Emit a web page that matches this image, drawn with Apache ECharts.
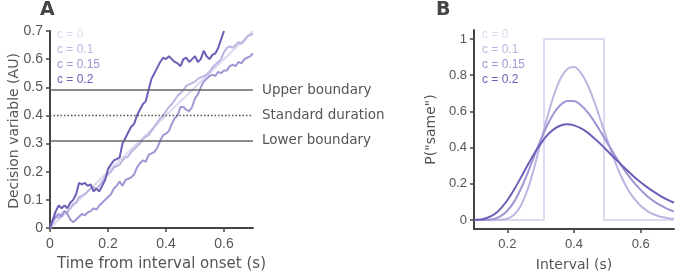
<!DOCTYPE html>
<html>
<head>
<meta charset="utf-8">
<script src="https://cdn.jsdelivr.net/npm/echarts@6/dist/echarts.min.js"></script>
<style>
html,body{margin:0;padding:0;background:#fff;}
#chart{width:677px;height:277px;}
</style>
</head>
<body>
<div id="chart"></div>
<script>
// ---------- Panel A data ----------
var timeA = [0,0.01,0.02,0.03,0.04,0.05,0.06,0.07,0.08,0.09,
  0.10,0.11,0.12,0.13,0.14,0.15,0.16,0.17,0.18,0.19,
  0.20,0.21,0.22,0.23,0.24,0.25,0.26,0.27,0.28,0.29,
  0.30,0.31,0.32,0.33,0.34,0.35,0.36,0.37,0.38,0.39,
  0.40,0.41,0.42,0.43,0.44,0.45,0.46,0.47,0.48,0.49,
  0.50,0.51,0.52,0.53,0.54,0.55,0.56,0.57,0.58,0.59,
  0.60,0.61,0.62,0.63,0.64,0.65,0.66,0.67,0.68,0.69,0.70];
var dvC0Time = [0, 0.70];
var dvC0 = [0, 0.70];
var dvC01 = [0,0.02,0.04,0.035,0.05,0.06,0.055,0.07,0.085,0.09,
  0.11,0.115,0.12,0.13,0.14,0.145,0.14,0.15,0.165,0.18,
  0.19,0.20,0.215,0.22,0.225,0.24,0.25,0.255,0.27,0.28,
  0.29,0.30,0.315,0.325,0.33,0.345,0.36,0.375,0.39,0.40,
  0.415,0.43,0.44,0.455,0.47,0.48,0.49,0.505,0.51,0.515,
  0.52,0.53,0.535,0.54,0.545,0.555,0.57,0.58,0.59,0.60,
  0.625,0.64,0.645,0.64,0.65,0.66,0.655,0.665,0.68,0.685,0.69];
var dvC015 = [0,0.03,0.04,0.05,0.04,0.06,0.05,0.03,0.02,0.03,
  0.04,0.05,0.045,0.055,0.06,0.07,0.065,0.08,0.09,0.10,
  0.11,0.12,0.14,0.15,0.165,0.15,0.17,0.175,0.18,0.19,
  0.215,0.23,0.24,0.235,0.26,0.265,0.27,0.285,0.31,0.33,
  0.335,0.345,0.37,0.39,0.40,0.43,0.43,0.42,0.415,0.43,
  0.46,0.475,0.50,0.52,0.53,0.54,0.545,0.54,0.555,0.55,
  0.56,0.56,0.575,0.58,0.575,0.59,0.585,0.60,0.605,0.61,0.62];
var dvC02 = [0,0.03,0.06,0.08,0.07,0.08,0.07,0.09,0.10,0.12,
  0.16,0.155,0.16,0.15,0.155,0.13,0.14,0.13,0.15,0.17,
  0.21,0.225,0.24,0.245,0.25,0.30,0.32,0.34,0.36,0.37,
  0.40,0.42,0.44,0.45,0.49,0.53,0.55,0.57,0.59,0.605,
  0.60,0.61,0.60,0.59,0.585,0.575,0.60,0.605,0.59,0.60,
  0.61,0.59,0.60,0.63,0.61,0.60,0.615,0.62,0.64,0.67,0.70];
var upperBoundary = 0.49;
var standardDuration = 0.40;
var lowerBoundary = 0.31;
var ticksAx = [0,0.2,0.4,0.6];
var ticksAy = [0,0.1,0.2,0.3,0.4,0.5,0.6,0.7];

// ---------- Panel B data ----------
var intervalB = [0.10,0.12,0.14,0.16,0.18,0.20,0.22,0.24,0.26,0.28,
  0.30,0.32,0.34,0.36,0.38,0.40,0.42,0.44,0.46,0.48,
  0.50,0.52,0.54,0.56,0.58,0.60,0.62,0.64,0.66,0.68,0.70];
var boxX = [0.10,0.31,0.31,0.49,0.49,0.70];
var boxY = [0,0,1,1,0,0];
var pC01 = [0,0,0,0.0001,0.001,0.007,0.028,0.077,0.164,0.285,
  0.427,0.569,0.692,0.783,0.835,0.845,0.815,0.750,0.658,0.550,
  0.440,0.337,0.247,0.174,0.119,0.078,0.049,0.030,0.018,0.011,0.006];
var pC015 = [0,0.0001,0.001,0.006,0.021,0.051,0.100,0.170,0.255,0.349,
  0.441,0.524,0.591,0.637,0.658,0.657,0.635,0.597,0.546,0.487,
  0.426,0.365,0.307,0.253,0.206,0.166,0.131,0.103,0.080,0.061,0.046];
var pC02 = [0.0005,0.003,0.012,0.030,0.063,0.109,0.167,0.232,0.300,0.365,
  0.422,0.469,0.502,0.522,0.529,0.523,0.507,0.484,0.453,0.419,
  0.382,0.345,0.308,0.273,0.239,0.208,0.180,0.155,0.132,0.112,0.095];
var ticksBx = [0.2,0.4,0.6];
var ticksBy = [0,0.2,0.4,0.6,0.8,1];

var legendNames = ['c = 0','c = 0.1','c = 0.15','c = 0.2'];
var colors = ['#dcdaf0','#bab6e1','#9d97d4','#6b60b7'];

function zip(xs, ys){ return ys.map(function(v,i){ return [xs[i], v]; }); }

var axisCol = '#444';
var labelCol = '#555';
var nameFont = 'DejaVu Sans';
var tickFont = 'Liberation Sans';

function mkX(idx, min, max, ticks, name, pad, fs, nfs){
  return {
    type:'value', gridIndex: idx, min:min, max:max,
    name:name, nameLocation:'middle', nameGap:29,
    nameTextStyle:{color:labelCol, fontFamily:nameFont, fontSize:nfs, padding:pad},
    axisLine:{onZero:false, lineStyle:{color:axisCol, width:2}},
    axisTick:{show:true, inside:false, length:4, customValues:ticks, lineStyle:{color:axisCol, width:1.5}},
    axisLabel:{customValues:ticks, color:labelCol, fontFamily:tickFont, fontSize:fs, margin:9},
    splitLine:{show:false}
  };
}
function mkY(idx, min, max, ticks, name, gap, fs){
  return {
    type:'value', gridIndex: idx, min:min, max:max,
    name:name, nameLocation:'middle', nameGap:gap,
    nameTextStyle:{color:labelCol, fontFamily:nameFont, fontSize:14},
    axisLine:{onZero:false, lineStyle:{color:axisCol, width:2}},
    axisTick:{show:true, inside:false, length:4, customValues:ticks, lineStyle:{color:axisCol, width:1.5}},
    axisLabel:{customValues:ticks, color:labelCol, fontFamily:tickFont, fontSize:fs, margin:7},
    splitLine:{show:false}
  };
}

function lineSeries(name, xi, yi, data, color, smooth){
  return {
    name:name, type:'line', xAxisIndex:xi, yAxisIndex:yi, data:data,
    showSymbol:false, symbol:'none', smooth:smooth||false, silent:true,
    lineStyle:{color:color, width:2}, itemStyle:{color:color}, animation:false
  };
}

var graphics = [
  {type:'text', left:40, top:1, style:{text:'A', font:'bold 19px "DejaVu Sans"', fill:'#444'}},
  {type:'text', left:436, top:1, style:{text:'B', font:'bold 19px "DejaVu Sans"', fill:'#444'}},
  {type:'text', x:14, y:131, rotation:Math.PI/2,
   style:{text:'Decision variable (AU)', font:'14px "DejaVu Sans"', fill:labelCol, textAlign:'center', textVerticalAlign:'middle'}}
];
legendNames.forEach(function(n,i){
  graphics.push({type:'text', left:57, top:29+i*15, style:{text:n, font:'12px "Liberation Sans"', fill:colors[i]}});
  graphics.push({type:'text', left:482, top:29+i*15, style:{text:n, font:'12px "Liberation Sans"', fill:colors[i]}});
});

var bLabel = {show:true, position:'end', distance:9, color:labelCol, fontFamily:nameFont, fontSize:13.5};

var yA = mkY(0, 0, 0.7, ticksAy, '', 29, 14);

var option = {
  animation:false,
  backgroundColor:'#fff',
  grid:[
    {left:50, top:31, width:203, height:199},
    {left:474, top:30, width:200, height:201}
  ],
  xAxis:[
    mkX(0, 0, 0.7, ticksAx, 'Time from interval onset (s)', [0,0,0,20], 14, 15),
    mkX(1, 0.1, 0.7, ticksBx, 'Interval (s)', [0,0,0,0], 13, 14)
  ],
  yAxis:[
    yA,
    mkY(1, -0.05, 1.05, ticksBy, 'P("same")', 36, 13)
  ],
  graphic: graphics,
  series:[
    {
      name:'boundaries', type:'line', xAxisIndex:0, yAxisIndex:0, data:[], silent:true,
      markLine:{
        silent:true, symbol:['none','none'], animation:false,
        data:[
          {yAxis:upperBoundary, lineStyle:{color:'#666', width:1.5, type:'solid'}, label:Object.assign({formatter:'Upper boundary'}, bLabel)},
          {yAxis:standardDuration, lineStyle:{color:'#555', width:1.3, type:[1.5,2]}, label:Object.assign({formatter:'Standard duration'}, bLabel)},
          {yAxis:lowerBoundary, lineStyle:{color:'#666', width:1.5, type:'solid'}, label:Object.assign({formatter:'Lower boundary'}, bLabel)}
        ]
      }
    },
    lineSeries('c = 0', 0, 0, zip(dvC0Time, dvC0), colors[0]),
    lineSeries('c = 0.1', 0, 0, zip(timeA, dvC01), colors[1]),
    lineSeries('c = 0.15', 0, 0, zip(timeA, dvC015), colors[2]),
    lineSeries('c = 0.2', 0, 0, zip(timeA, dvC02), colors[3]),
    lineSeries('c = 0', 1, 1, zip(boxX, boxY), colors[0]),
    lineSeries('c = 0.1', 1, 1, zip(intervalB, pC01), colors[1], 0.3),
    lineSeries('c = 0.15', 1, 1, zip(intervalB, pC015), colors[2], 0.3),
    lineSeries('c = 0.2', 1, 1, zip(intervalB, pC02), colors[3], 0.3)
  ]
};
var chart = echarts.init(document.getElementById('chart'), null, {renderer:'canvas'});
chart.setOption(option);
</script>
</body>
</html>
